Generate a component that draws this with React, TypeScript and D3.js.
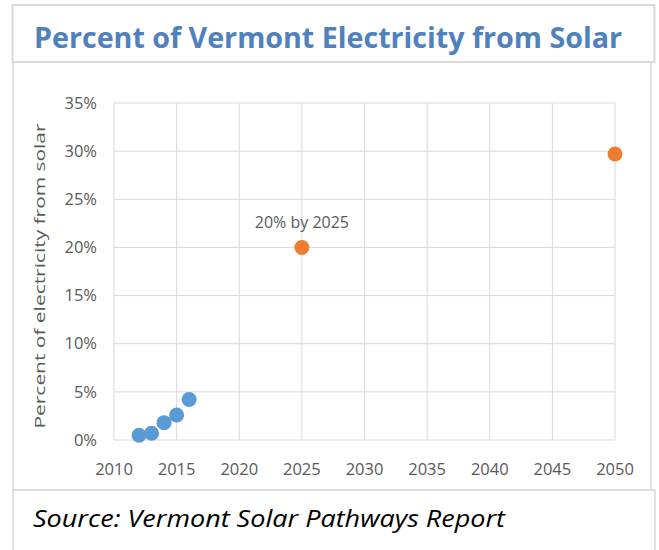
import React from "react";
import * as d3 from "d3";

const historicYears = [2012, 2013, 2014, 2015, 2016];
const historicValues = [0.5, 0.7, 1.8, 2.6, 4.2];
const targetYears = [2025, 2050];
const targetValues = [20, 29.7];
const xTicks = [2010, 2015, 2020, 2025, 2030, 2035, 2040, 2045, 2050];
const yTicks = [0, 5, 10, 15, 20, 25, 30, 35];
const titleText = "Percent of Vermont Electricity from Solar";
const sourceText = "Source: Vermont Solar Pathways Report";
const yAxisTitle = "Percent of electricity from solar";
const annotation = "20% by 2025";

export default function App() {
  const W = 659, H = 550;
  const x = d3.scaleLinear().domain([2010, 2050]).range([114, 615]);
  const y = d3.scaleLinear().domain([0, 35]).range([440, 103]);
  const font = "'Open Sans', 'DejaVu Sans', sans-serif";
  const grey = "#595959";
  const grid = "#d9d9d9";
  return (
    <svg width={W} height={H} style={{ position: "absolute", left: 0, top: 0, background: "#fff" }}>
      {/* boxes */}
      <rect x={13} y={62} width={638} height={428} fill="#fff" stroke="#d9d9d9" strokeWidth={1.5} />
      <rect x={13} y={490} width={642} height={70} fill="#fff" stroke="#d9d9d9" strokeWidth={1.5} />
      <rect x={12.5} y={5} width={642} height={57} fill="#fff" stroke="#d9d9d9" strokeWidth={2} />
      <text x={34} y={48} fontFamily={font} fontWeight={700} fontSize={28} fill="#4F81BD"
        textLength={588} lengthAdjust="spacingAndGlyphs">{titleText}</text>
      {/* grid */}
      {xTicks.map((t) => (
        <line key={"gx" + t} x1={x(t)} x2={x(t)} y1={y(35)} y2={y(0)} stroke={grid} strokeWidth={1} />
      ))}
      {yTicks.map((t) => (
        <line key={"gy" + t} x1={x(2010)} x2={x(2050)} y1={y(t)} y2={y(t)} stroke={grid} strokeWidth={1} />
      ))}
      {/* y tick labels */}
      {yTicks.map((t) => (
        <text key={"yl" + t} x={97} y={y(t)} dy="0.35em" textAnchor="end" fontFamily={font} fontSize={16.5} fill={grey}>
          {t + "%"}
        </text>
      ))}
      {/* x tick labels */}
      {xTicks.map((t) => (
        <text key={"xl" + t} x={x(t)} y={475} textAnchor="middle" fontFamily={font} fontSize={16.5} fill={grey}>
          {t}
        </text>
      ))}
      <text transform={`translate(45, ${276}) rotate(-90)`} textAnchor="middle" fontFamily={font} fontSize={15} fill={grey}
        textLength={305} lengthAdjust="spacingAndGlyphs">{yAxisTitle}</text>
      {/* points */}
      {historicYears.map((yr, i) => (
        <circle key={"h" + yr} cx={x(yr)} cy={y(historicValues[i])} r={7.5} fill="#5B9BD5" />
      ))}
      {targetYears.map((yr, i) => (
        <circle key={"t" + yr} cx={x(yr)} cy={y(targetValues[i])} r={7.5} fill="#ED7D31" />
      ))}
      <text x={x(2025)} y={228} textAnchor="middle" fontFamily={font} fontSize={16} fill={grey}>{annotation}</text>
      <text x={33} y={527} fontFamily={font} fontStyle="italic" fontSize={24} fill="#000"
        textLength={472} lengthAdjust="spacingAndGlyphs">{sourceText}</text>
    </svg>
  );
}
